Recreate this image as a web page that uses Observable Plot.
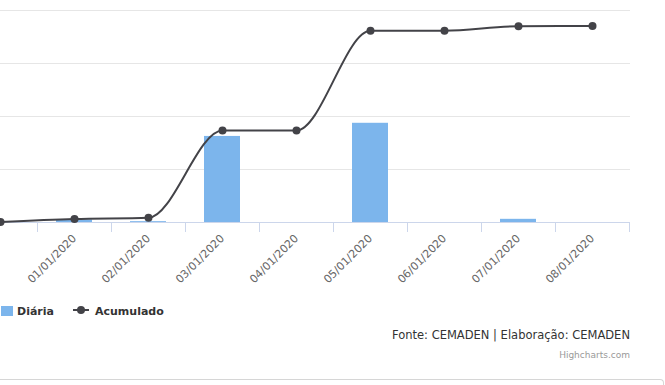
<!DOCTYPE html>
<html>
<head>
<meta charset="utf-8">
<script src="https://cdn.jsdelivr.net/npm/d3@7"></script>
<script src="https://cdn.jsdelivr.net/npm/@observablehq/plot@0.6"></script>
<style>
  body { margin: 0; background: #fff; font-family: "DejaVu Sans", sans-serif; }
  #wrap { position: relative; width: 665px; height: 385px; overflow: hidden; }
  #legend { position: absolute; left: 0; top: 302px; height: 20px; font-size: 11px; font-weight: bold; color: #333; }
  .item { position: absolute; top: 0; white-space: nowrap; line-height: 20px; }
  #caption { position: absolute; right: 35px; top: 328px; font-size: 11.5px; color: #333; white-space: nowrap; }
  #credit { position: absolute; right: 35px; top: 350px; font-size: 9px; color: #999; white-space: nowrap; }
  #border { position: absolute; left: -10px; top: 379px; width: 674px; height: 20px; border: 1px solid #d6d6d6; border-radius: 4px; box-sizing: border-box; border-bottom: none; }
</style>
</head>
<body>
<div id="wrap">
  <div id="chart"></div>
  <div id="legend">
    <div class="item" style="left:1px"><span style="display:inline-block;width:12px;height:10px;background:#7cb5ec;vertical-align:-1px;margin-right:4px"></span>Diária</div>
    <div class="item" style="left:73px"><svg width="18" height="10" style="vertical-align:0px;margin-right:4px"><line x1="0" x2="16" y1="5" y2="5" stroke="#434348" stroke-width="2"/><circle cx="8" cy="5" r="4" fill="#434348"/></svg>Acumulado</div>
  </div>
  <div id="caption">Fonte: CEMADEN | Elaboração: CEMADEN</div>
  <div id="credit">Highcharts.com</div>
  <div id="border"></div>
</div>
<script>
const categories = ["31/12/2019", "01/01/2020", "02/01/2020", "03/01/2020", "04/01/2020", "05/01/2020", "06/01/2020", "07/01/2020", "08/01/2020"];
const diaria = [0, 1.2, 0.4, 40.6, 0, 46.8, 0, 1.5, 0];
const acumulado = [0.2, 1.6, 2.2, 43.4, 43.4, 90.4, 90.5, 92.6, 92.7];
const gridTicks = [25, 50, 75, 100];
// the first category sits at the cropped left edge; its label is outside the visible frame
const visibleLabels = categories.slice(1);

const data = categories.map((c, i) => ({cat: c, diaria: diaria[i], acumulado: acumulado[i]}));

const chart = Plot.plot({
  width: 665,
  height: 300,
  marginLeft: 0,
  marginRight: 35,
  marginTop: 10,
  marginBottom: 78,
  style: {fontFamily: "DejaVu Sans, sans-serif", background: "#fff", overflow: "visible"},
  x: {type: "band", domain: categories, range: [-37.5, 629], paddingInner: 0.52, paddingOuter: 0.26, axis: null, label: null},
  y: {domain: [0, 100], axis: null},
  marks: [
    Plot.ruleY(gridTicks, {stroke: "#e6e6e6", strokeWidth: 1}),
    Plot.barY(data, {x: "cat", y: "diaria", fill: "#7cb5ec"}),
    Plot.ruleY([0], {stroke: "#ccd6eb", strokeWidth: 1}),
    Plot.axisX({ticks: categories, tickSize: 10, tickFormat: () => "", dx: 37, stroke: "#ccd6eb", label: null}),
    Plot.axisX({ticks: visibleLabels, tickSize: 0, tickPadding: 14, tickRotate: -45, fontSize: 11, fill: "#666", label: null}),
    Plot.line(data, {x: "cat", y: "acumulado", stroke: "#434348", strokeWidth: 2, curve: "monotone-x"}),
    Plot.dot(data, {x: "cat", y: "acumulado", r: 4, fill: "#434348"})
  ]
});
document.getElementById("chart").appendChild(chart);
</script>
</body>
</html>
